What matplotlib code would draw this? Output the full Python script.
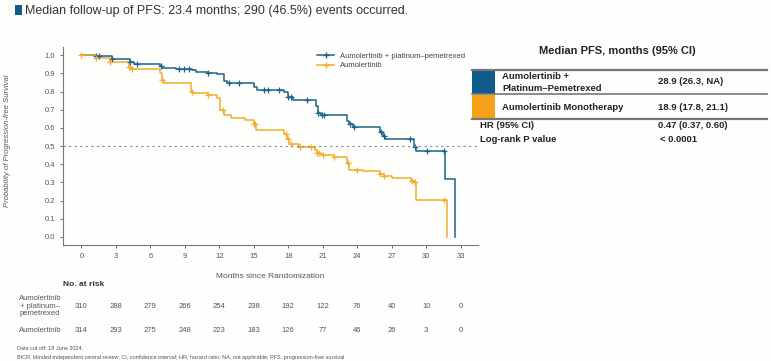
import numpy as np
import matplotlib
matplotlib.use("Agg")
from matplotlib import pyplot as plt
from matplotlib.lines import Line2D

plt.rcParams['font.family'] = ['Liberation Sans', 'DejaVu Sans']

# KM step data (time in months, survival after step)
blue_t = [0, 1.3, 2.7, 4.2, 4.6, 6.8, 7.0, 8.2, 9.6, 10.0, 11.0, 11.8, 12.4, 12.7, 15.0, 15.3, 17.6,
          18.0, 18.4, 20.4, 20.6, 20.8, 23.1, 23.3, 23.6, 26.0, 26.2, 26.4, 28.9, 29.1, 31.6, 32.5]
blue_s = [1.0, 0.995, 0.978, 0.962, 0.955, 0.94, 0.93, 0.925, 0.92, 0.91, 0.905, 0.895, 0.86, 0.845,
          0.825, 0.81, 0.80, 0.77, 0.755, 0.72, 0.685, 0.67, 0.64, 0.62, 0.605, 0.58, 0.555, 0.54,
          0.495, 0.475, 0.32, 0.0]
blue_cens = [1.3, 1.5, 2.7, 4.2, 4.8, 6.9, 8.5, 8.9, 9.4, 11.0, 12.8, 13.7, 15.9, 16.2, 17.2, 18.0,
             18.2, 19.6, 20.6, 20.9, 21.1, 23.4, 23.7, 26.1, 26.3, 28.6, 29.0, 30.1, 31.5]

orange_t = [0, 1.3, 2.5, 4.1, 4.3, 6.8, 7.0, 7.2, 9.0, 9.5, 9.7, 11.0, 11.8, 12.1, 12.4, 13.0, 14.2,
            15.0, 15.2, 17.6, 17.9, 18.1, 18.9, 20.3, 20.5, 20.8, 22.0, 23.1, 23.3, 24.5, 26.0, 26.3,
            27.0, 28.7, 28.9, 29.1, 31.8]
orange_s = [1.0, 0.985, 0.962, 0.935, 0.925, 0.90, 0.865, 0.85, 0.845, 0.80, 0.79, 0.78, 0.765, 0.70,
            0.67, 0.655, 0.645, 0.62, 0.59, 0.565, 0.54, 0.51, 0.497, 0.48, 0.46, 0.45, 0.44, 0.405,
            0.37, 0.36, 0.345, 0.335, 0.325, 0.31, 0.30, 0.205, 0.0]
orange_cens = [0.0, 1.3, 2.5, 4.1, 4.4, 7.0, 9.6, 11.0, 12.3, 15.0, 15.1, 17.8, 18.0, 18.2, 19.0,
               20.0, 20.5, 20.7, 21.0, 22.0, 23.2, 24.0, 26.0, 26.3, 28.8, 29.0, 31.5]

risk_times = [0, 3, 6, 9, 12, 15, 18, 21, 24, 27, 30, 33]
risk_combo = [310, 288, 279, 266, 254, 238, 192, 122, 76, 40, 10, 0]
risk_mono = [314, 293, 275, 248, 223, 183, 126, 77, 46, 26, 3, 0]

BLUE = "#1c6389"
ORANGE = "#f3ad2a"
BOX_BLUE = "#0f5b8a"
BOX_ORANGE = "#f7a11a"
GREY = "#555555"

W, H = 771, 361
fig = plt.figure(figsize=(W / 100, H / 100), dpi=100)
fig.patch.set_facecolor("#fefefc")


def px(x, y):
    # pixel coords (top-left origin) -> figure fraction
    return x / W, 1 - y / H


def step_val(t, s, x):
    idx = np.searchsorted(t, x, side="right") - 1
    return np.array(s)[idx]


# main KM axes
ax = fig.add_axes([63 / W, 1 - 245 / H, (478 - 63) / W, (245 - 47) / H])
ax.set_facecolor("none")
ax.step(blue_t, blue_s, where="post", color=BLUE, lw=1.1)
ax.step(orange_t, orange_s, where="post", color=ORANGE, lw=1.1)
ax.plot(blue_cens, step_val(blue_t, blue_s, blue_cens), "+", color=BLUE, ms=4, mew=0.9)
ax.plot(orange_cens, step_val(orange_t, orange_s, orange_cens), "+", color=ORANGE, ms=4, mew=0.9)
ax.axhline(0.5, color="#888888", lw=0.8, ls=(0, (2, 3)))

ax.set_xlim(-1.6, 34.5)
ax.set_ylim(-0.045, 1.046)
ax.set_xticks(risk_times)
ax.set_yticks(np.arange(0, 1.01, 0.1))
ax.set_yticklabels([f"{v:.1f}" for v in np.arange(0, 1.01, 0.1)])
ax.tick_params(labelsize=5.5, colors=GREY, length=2, width=0.6)
for side in ["top", "right"]:
    ax.spines[side].set_visible(False)
for side in ["left", "bottom"]:
    ax.spines[side].set_color("#777777")
    ax.spines[side].set_linewidth(0.8)

handles = [Line2D([], [], color=BLUE, lw=1.1, marker="+", ms=4),
           Line2D([], [], color=ORANGE, lw=1.1, marker="+", ms=4)]
leg = ax.legend(handles, ["Aumolertinib + platinum\u2013pemetrexed", "Aumolertinib"],
                loc="upper left", bbox_to_anchor=(0.6, 1.0), frameon=False, fontsize=5.5,
                handlelength=2.2, labelspacing=0.3, borderaxespad=0.3)
for t in leg.get_texts():
    t.set_color("#444444")

fig.text(*px(8, 141), "Probability of Progression-free Survival", rotation=90, fontsize=5.5,
         style="italic", color=GREY, ha="center", va="center")
fig.text(*px(270, 277), "Months since Randomization", fontsize=6, color=GREY, ha="center", va="center")

# header
fig.patches.append(plt.Rectangle(px(15, 15), 7 / W, 10 / H, transform=fig.transFigure,
                                 color=BOX_BLUE, lw=0))
fig.text(*px(25, 11), "Median follow-up of PFS: 23.4 months; 290 (46.5%) events occurred.",
         fontsize=9, color="#333333", ha="left", va="center")

# number at risk table, x positions through the KM axes transform
fig.text(*px(63, 285), "No. at risk", fontsize=6, weight="bold", color="#333333", ha="left", va="center")
fig.text(*px(40, 306), "Aumolertinib\n+ platinum\u2013\npemetrexed", fontsize=5.5, color=GREY,
         ha="center", va="center", linespacing=1.1)
fig.text(*px(40, 330), "Aumolertinib", fontsize=5.5, color=GREY, ha="center", va="center")
for tm, a, b in zip(risk_times, risk_combo, risk_mono):
    ax.annotate(str(a), xy=(tm, 0), xycoords=("data", "axes fraction"), xytext=(0, -(306 - 245) * 0.72),
                textcoords="offset points", fontsize=5.5, color=GREY, ha="center", va="center",
                annotation_clip=False)
    ax.annotate(str(b), xy=(tm, 0), xycoords=("data", "axes fraction"), xytext=(0, -(330 - 245) * 0.72),
                textcoords="offset points", fontsize=5.5, color=GREY, ha="center", va="center",
                annotation_clip=False)

fig.text(*px(17, 349), "Data cut off: 18 June 2024.", fontsize=4, color=GREY, ha="left", va="center")
fig.text(*px(17, 357), "BICR, blinded independent central review; CI, confidence interval; HR, hazard ratio; "
         "NA, not applicable; PFS, progression-free survival", fontsize=4, color=GREY, ha="left", va="center")

# median PFS table on the right
fig.text(*px(617, 51), "Median PFS, months (95% CI)", fontsize=8, weight="bold", color="#222222",
         ha="center", va="center")
for y, lw in [(69.5, 1.6), (94.3, 1.2), (119.3, 1.6)]:
    fig.add_artist(Line2D([472 / W, 767 / W], [1 - y / H] * 2, color="#777777", lw=lw))
fig.patches.append(plt.Rectangle(px(472, 94), 23 / W, 24 / H, transform=fig.transFigure,
                                 color=BOX_BLUE, lw=0))
fig.patches.append(plt.Rectangle(px(472, 119), 23 / W, 24 / H, transform=fig.transFigure,
                                 color=BOX_ORANGE, lw=0))
tk = dict(fontsize=6.8, weight="bold", color="#222222", va="center")
fig.text(*px(502, 76.5), "Aumolertinib +", ha="left", **tk)
fig.text(*px(502, 88.5), "Platinum\u2013Pemetrexed", ha="left", **tk)
fig.text(*px(658, 82), "28.9 (26.3, NA)", ha="left", **tk)
fig.text(*px(502, 107), "Aumolertinib Monotherapy", ha="left", **tk)
fig.text(*px(658, 107), "18.9 (17.8, 21.1)", ha="left", **tk)
fig.text(*px(480, 126), "HR (95% CI)", ha="left", **tk)
fig.text(*px(658, 126), "0.47 (0.37, 0.60)", ha="left", **tk)
fig.text(*px(480, 139), "Log-rank P value", ha="left", **tk)
fig.text(*px(660, 139), "< 0.0001", ha="left", **tk)

fig.savefig("out.png", dpi=100, facecolor=fig.get_facecolor())
